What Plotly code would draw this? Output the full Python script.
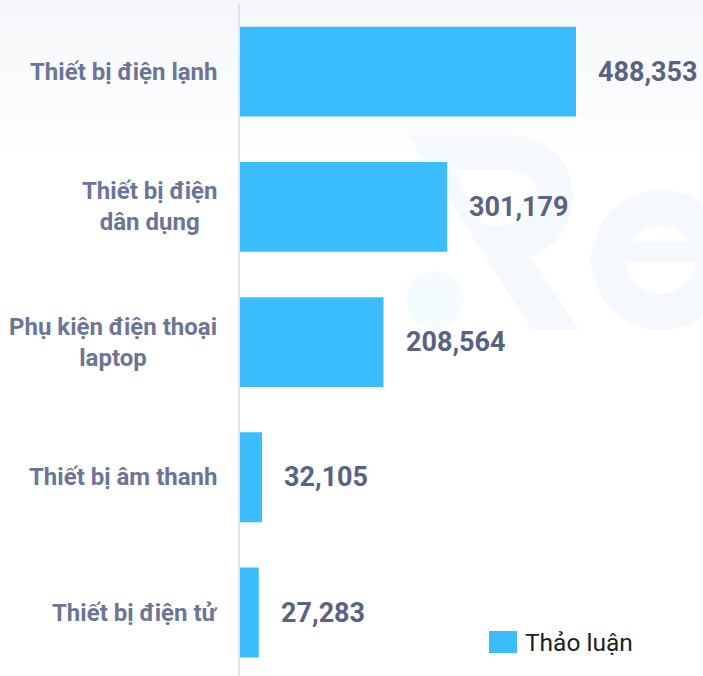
import plotly.graph_objects as go

# ---- data ----
categories = [
    "Thiết bị điện lạnh",
    "Thiết bị điện<br>dân dụng",
    "Phụ kiện điện thoại<br>laptop",
    "Thiết bị âm thanh",
    "Thiết bị điện tử",
]
values = [488353, 301179, 208564, 32105, 27283]
series_name = "Thảo luận"
value_labels = [f"{v:,}" for v in values]

# ---- layout geometry (pixels) ----
W, H = 703, 676
ML, MR, MT, MB = 240, 0, 4, 0
PW, PH = W - ML - MR, H - MT - MB


def px(x):
    return (x - ML) / PW


def py(y):
    return (H - MB - y) / PH


BAR_COLOR = "#3BBCFD"
LABEL_COLOR = "#6C7595"
VALUE_COLOR = "#5A6282"
WM_COLOR = "#F5F8FD"

fig = go.Figure()
fig.add_trace(
    go.Bar(
        x=values,
        y=list(range(len(categories))),
        orientation="h",
        name=series_name,
        marker=dict(color=BAR_COLOR, line=dict(width=0)),
        showlegend=False,
    )
)

annotations = []
for i, (cat, lab, v) in enumerate(zip(categories, value_labels, values)):
    annotations.append(
        dict(
            x=0, xref="paper", y=i, yref="y", text=cat, showarrow=False,
            xanchor="right", yanchor="middle", xshift=-21, align="center",
            font=dict(family="Roboto", size=24, color=LABEL_COLOR, weight=700),
        )
    )
    annotations.append(
        dict(
            x=v, xref="x", y=i, yref="y", text=lab, showarrow=False,
            xanchor="left", yanchor="middle", xshift=20,
            font=dict(family="Roboto", size=27, color=VALUE_COLOR, weight=700),
        )
    )

# legend drawn manually to match the large swatch
annotations.append(
    dict(
        x=px(523), xref="paper", y=py(642), yref="paper", text=series_name,
        showarrow=False, xanchor="left", yanchor="middle",
        font=dict(family="Roboto", size=24.5, color="#1E1E1E"),
    )
)

shapes = []
# soft grey gradient at top of the canvas
n_bands = 18
top_rgb = (246, 247, 250)
for k in range(n_bands):
    t = k / n_bands
    c = tuple(round(a + (255 - a) * t) for a in top_rgb)
    y0 = k * 9
    shapes.append(
        dict(
            type="rect", xref="paper", yref="paper", layer="below",
            x0=px(0), x1=px(W), y0=py(y0 + 9), y1=py(y0 if k else -2),
            fillcolor=f"rgb{c}", line=dict(width=0),
        )
    )


def path(points_cmds):
    out = []
    for cmd, pts in points_cmds:
        s = cmd
        s += " ".join(f"{px(x):.5f},{py(y):.5f}" for x, y in pts)
        out.append(s)
    return " ".join(out) + " Z"


# watermark "R"
shapes.append(
    dict(
        type="path", xref="paper", yref="paper", layer="below",
        path=path([
            ("M", [(408, 135)]),
            ("L", [(505, 135)]),
            ("C", [(548, 135), (573, 162), (573, 195)]),
            ("C", [(573, 226), (556, 248), (530, 256)]),
            ("L", [(579, 330)]),
            ("L", [(532, 330)]),
        ]),
        fillcolor=WM_COLOR, line=dict(width=0),
    )
)
shapes.append(
    dict(
        type="path", xref="paper", yref="paper", layer="below",
        path=path([
            ("M", [(453, 170)]),
            ("L", [(503, 170)]),
            ("C", [(526, 170), (537, 182), (537, 197)]),
            ("C", [(537, 213), (526, 225), (503, 225)]),
            ("L", [(484, 225)]),
        ]),
        fillcolor="#FFFFFF", line=dict(width=0),
    )
)
# watermark "e"
shapes.append(dict(type="circle", xref="paper", yref="paper", layer="below",
                   x0=px(591), x1=px(731), y0=py(330), y1=py(190),
                   fillcolor=WM_COLOR, line=dict(width=0)))
shapes.append(dict(type="circle", xref="paper", yref="paper", layer="below",
                   x0=px(627), x1=px(695), y0=py(294), y1=py(226),
                   fillcolor="#FFFFFF", line=dict(width=0)))
shapes.append(dict(type="rect", xref="paper", yref="paper", layer="below",
                   x0=px(625), x1=px(703), y0=py(262), y1=py(243),
                   fillcolor=WM_COLOR, line=dict(width=0)))
# watermark dot
shapes.append(dict(type="circle", xref="paper", yref="paper", layer="below",
                   x0=px(406), x1=px(464), y0=py(329), y1=py(271),
                   fillcolor="#F4FCFF", line=dict(width=0)))
# legend swatch
shapes.append(dict(type="rect", xref="paper", yref="paper",
                   x0=px(489), x1=px(517), y0=py(653), y1=py(631),
                   fillcolor=BAR_COLOR, line=dict(width=0)))

fig.update_layout(
    width=W, height=H,
    margin=dict(l=ML, r=MR, t=MT, b=MB, pad=0),
    paper_bgcolor="#FFFFFF",
    plot_bgcolor="rgba(0,0,0,0)",
    bargap=0.335,
    showlegend=False,
    xaxis=dict(range=[0, 672950], visible=False, showgrid=False, zeroline=False),
    yaxis=dict(
        range=[len(categories) - 1 + 0.469, -0.5],
        showticklabels=False, showgrid=False, zeroline=False, ticks="",
        showline=True, linecolor="#E1E3EB", linewidth=2,
    ),
    annotations=annotations,
    shapes=shapes,
    font=dict(family="Roboto"),
)

fig.write_html(
    "out.html",
    config={"displayModeBar": False},
    post_script="document.body.style.margin='0px';document.body.style.overflow='hidden';",
)
